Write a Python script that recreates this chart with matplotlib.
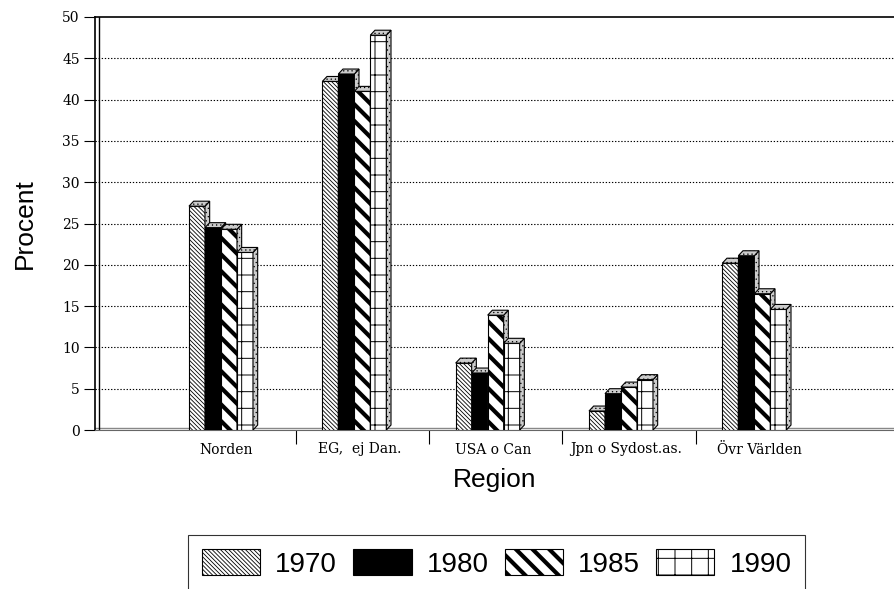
import numpy as np
import matplotlib
matplotlib.use("Agg")
import matplotlib.pyplot as plt
from matplotlib.patches import Polygon, Patch

regions = ["Norden", "EG,  ej Dan.", "USA o Can", "Jpn o Sydost.as.", "Övr Världen"]
years = ["1970", "1980", "1985", "1990"]
v1970 = [27.1, 42.2, 8.1, 2.3, 20.2]
v1980 = [24.5, 43.1, 6.9, 4.4, 21.1]
v1985 = [24.3, 41.0, 13.9, 5.2, 16.5]
v1990 = [21.5, 47.8, 10.5, 6.1, 14.6]
series = [v1970, v1980, v1985, v1990]

# looks: facecolor, hatch, hatch linewidth
looks = [("white", "\\\\\\\\\\\\\\\\", 0.6),
         ("black", None, 0.6),
         ("white", "\\\\", 3.0),
         ("white", "+", 0.7)]

fig = plt.figure(figsize=(8.95, 5.89), dpi=100)
ax = fig.add_axes([95 / 895, 1 - 430 / 589, 800 / 895, 413 / 589])

x = np.arange(len(regions))
w = 0.12
dx, dy = 0.035, 0.6

for j, vals in enumerate(series):
    fc, hatch, hlw = looks[j]
    z = 3 + 2 * j
    bars = ax.bar(x + (j - 1.5) * w, vals, w, color=fc, edgecolor="black",
                  hatch=hatch, linewidth=0.8, zorder=z)
    for b in bars:
        if hasattr(b, "set_hatch_linewidth"):
            b.set_hatch_linewidth(hlw)
        x0 = b.get_x()
        x1 = x0 + b.get_width()
        v = b.get_height()
        side = Polygon([(x1, 0), (x1 + dx, dy), (x1 + dx, v + dy), (x1, v)],
                       closed=True, facecolor="#cccccc", edgecolor="black",
                       linewidth=0.8, hatch="....", zorder=z + 0.5)
        top = Polygon([(x0, v), (x0 + dx, v + dy), (x1 + dx, v + dy), (x1, v)],
                      closed=True, facecolor="#cccccc", edgecolor="black",
                      linewidth=0.8, hatch="....", zorder=z + 0.5)
        ax.add_patch(side)
        ax.add_patch(top)
        if hasattr(side, "set_hatch_linewidth"):
            side.set_hatch_linewidth(0.4)
            top.set_hatch_linewidth(0.4)

ax.set_xlim(-0.945, 5.055)
ax.set_ylim(0, 50)

# grid
for g in range(5, 50, 5):
    ax.axhline(g, color="black", linestyle=(0, (1.2, 1.6)), linewidth=0.8, zorder=1)
# floor and back wall double lines
ax.axhline(0.25, color="#888888", linewidth=1.0, zorder=2)
ax.axvline(-0.915, color="black", linewidth=1.0, zorder=2)

ax.spines["right"].set_visible(False)
ax.spines["bottom"].set_color("#666666")
ax.spines["top"].set_linewidth(1.2)
ax.spines["left"].set_linewidth(1.2)

ax.set_yticks(range(0, 51, 5))
ax.tick_params(axis="y", direction="out", length=8, width=0.8, pad=3)
for t in ax.get_yticklabels():
    t.set_fontfamily("DejaVu Serif")
    t.set_fontsize(10)

ax.set_xticks(np.arange(4) + 0.56)
ax.set_xticklabels([])
ax.tick_params(axis="x", which="major", direction="out", length=10, width=0.8)
ax.set_xticks(x + 0.04, minor=True)
ax.set_xticklabels(regions, minor=True, fontfamily="DejaVu Serif", fontsize=10)
ax.tick_params(axis="x", which="minor", length=0, pad=9)

ax.set_ylabel("Procent", fontsize=19, fontfamily="Liberation Sans", labelpad=18)
ax.set_xlabel("Region", fontsize=19, fontfamily="Liberation Sans", labelpad=8)

handles = []
for j in range(4):
    fc, hatch, hlw = looks[j]
    p = Patch(facecolor=fc, edgecolor="black", hatch=hatch, linewidth=0.8, label=years[j])
    if hasattr(p, "set_hatch_linewidth"):
        p.set_hatch_linewidth(hlw)
    handles.append(p)

leg = fig.legend(handles=handles, loc="upper left", ncol=4,
                 bbox_to_anchor=(188 / 895, 1 - 535 / 589),
                 prop={"family": "Liberation Sans", "size": 20},
                 handlelength=2.1, handleheight=1.08, handletextpad=0.54,
                 columnspacing=0.58, borderpad=0.5, borderaxespad=0,
                 fancybox=False, frameon=True)
leg.get_frame().set_edgecolor("black")
leg.get_frame().set_linewidth(0.8)
for k, h in enumerate(leg.legend_handles):
    if hasattr(h, "set_hatch_linewidth"):
        h.set_hatch_linewidth(looks[k][2])

fig.savefig("out.png", dpi=100)
